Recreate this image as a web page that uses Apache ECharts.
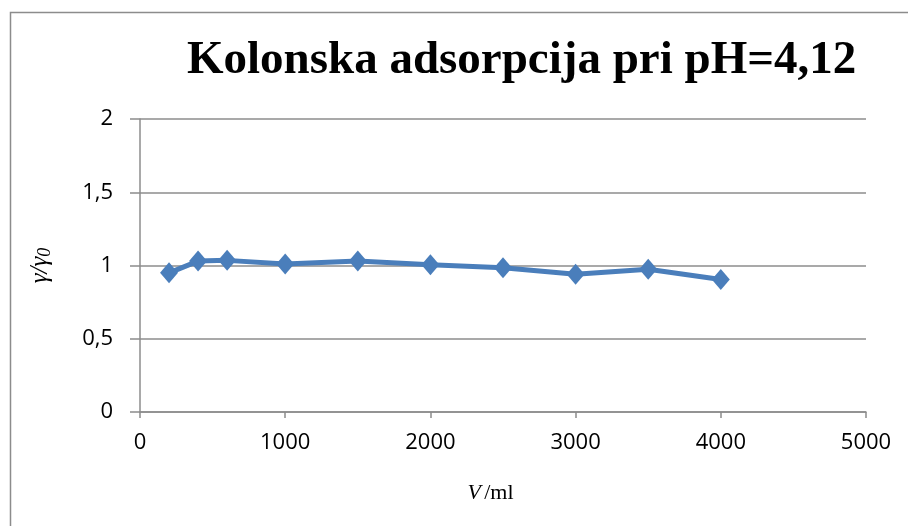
<!DOCTYPE html>
<html>
<head>
<meta charset="utf-8">
<script src="https://cdn.jsdelivr.net/npm/echarts@6/dist/echarts.min.js"></script>
<style>html,body{margin:0;padding:0;background:#fff}#c{width:908px;height:526px}</style>
</head>
<body>
<div id="c"></div>
<script>
const volumes = [200, 400, 600, 1000, 1500, 2000, 2500, 3000, 3500, 4000];
const ratios = [0.95, 1.03, 1.035, 1.01, 1.03, 1.005, 0.985, 0.94, 0.975, 0.905];
const titleText = 'Kolonska adsorpcija pri pH=4,12';

const chart = echarts.init(document.getElementById('c'));
chart.setOption({
  backgroundColor: '#ffffff',
  animation: false,
  graphic: [{
    type: 'rect', left: 8, top: 10, shape: {width: 1000, height: 1000},
    style: {fill: 'none', stroke: '#8c8c8c', lineWidth: 1.5}, silent: true
  }],
  title: {
    text: titleText, left: 182, top: 32,
    textStyle: {fontFamily: 'Liberation Serif', fontWeight: 'bold', fontSize: 47, color: '#000'}
  },
  grid: {left: 140, right: 42, top: 119, bottom: 114},
  xAxis: {
    type: 'value', min: 0, max: 5000, interval: 1000,
    name: '{i|V} {n|/ml}', nameLocation: 'middle', nameGap: 70,
    nameTextStyle: {rich: {
      i: {fontFamily: 'Liberation Serif', fontStyle: 'italic', fontSize: 22, color: '#000'},
      n: {fontFamily: 'Liberation Serif', fontSize: 22, color: '#000'}
    }, padding: [0, 25, 0, 0]},
    axisLine: {show: true, lineStyle: {color: '#8c8c8c', width: 1.5}},
    axisTick: {show: true, length: 6, lineStyle: {color: '#8c8c8c', width: 1.5}},
    axisLabel: {margin: 20, fontFamily: 'Open Sans', fontSize: 22, color: '#000',
      formatter: v => String(v)},
    splitLine: {show: false}
  },
  yAxis: {
    type: 'value', min: 0, max: 2, interval: 0.5,
    name: '{i|γ/γ}{s|0}', nameLocation: 'middle', nameGap: 86, nameRotate: 90,
    nameTextStyle: {rich: {
      i: {fontFamily: 'Liberation Serif', fontStyle: 'italic', fontSize: 25, color: '#000'},
      s: {fontFamily: 'Liberation Serif', fontStyle: 'italic', fontSize: 18, color: '#000', padding: [9, 0, 0, 0]}
    }},
    axisLine: {show: true, lineStyle: {color: '#8c8c8c', width: 1.5}},
    axisTick: {show: true, length: 10, lineStyle: {color: '#8c8c8c', width: 1.5}},
    axisLabel: {margin: 27, fontFamily: 'Open Sans', fontSize: 22, color: '#000',
      formatter: v => String(v).replace('.', ',')},
    splitLine: {show: true, lineStyle: {color: '#8c8c8c', width: 1.5}}
  },
  series: [{
    type: 'line',
    data: volumes.map((v, i) => [v, ratios[i]]),
    symbol: 'diamond', symbolSize: [18, 21],
    lineStyle: {color: '#4a7ebb', width: 5},
    itemStyle: {color: '#4a7ebb'}
  }]
});
</script>
</body>
</html>
